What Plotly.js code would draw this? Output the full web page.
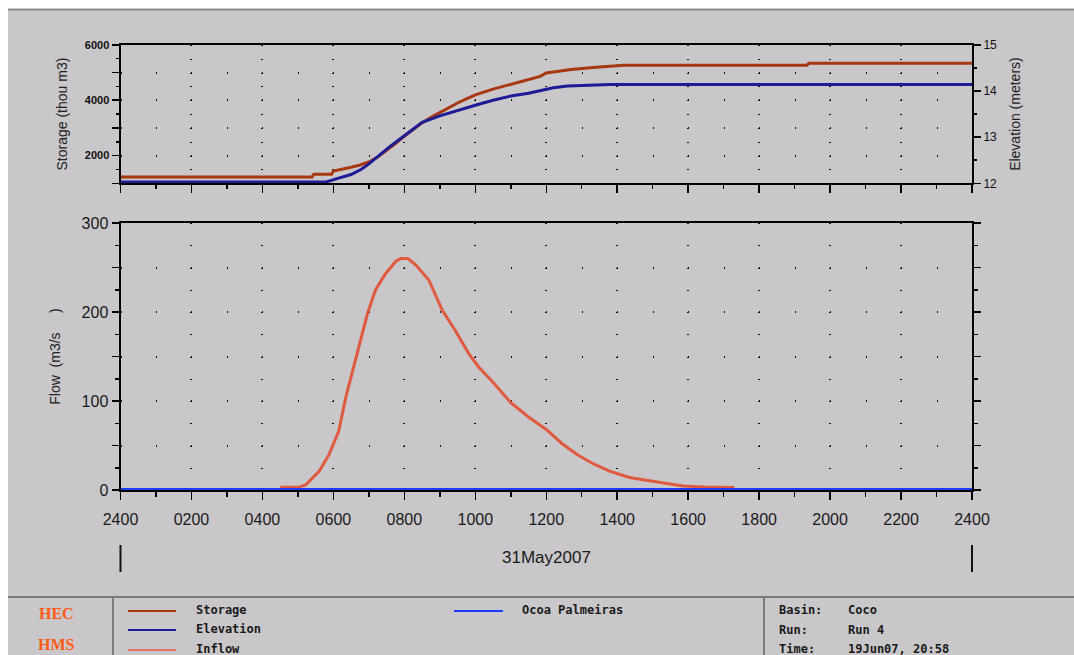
<!DOCTYPE html>
<html><head><meta charset="utf-8">
<script src="https://cdn.plot.ly/plotly-3.0.1.min.js"></script>
<style>html,body{margin:0;padding:0;background:#fff;}#chart{width:1074px;height:655px;}</style>
</head><body><div id="chart"></div>
<script>
// ---- data (hours after 2400 of 30May2007) ----
const tickHours = [0,2,4,6,8,10,12,14,16,18,20,22,24];
const tickLabels = ['2400','0200','0400','0600','0800','1000','1200','1400','1600','1800','2000','2200','2400'];
const dateLabel = '31May2007';

const storageHours = [0,5.4,5.45,5.95,6.0,6.25,6.5,6.75,7.0,7.25,7.5,7.75,8.0,8.25,8.5,8.75,9.0,9.25,9.5,9.75,10.0,10.5,11.0,11.5,11.83,12.0,12.4,12.7,13.4,14.2,19.35,19.4,24];
const storageValues = [1230,1230,1330,1330,1440,1500,1580,1660,1770,1950,2180,2430,2700,2950,3180,3380,3560,3730,3900,4050,4190,4400,4570,4740,4860,4980,5060,5110,5190,5260,5260,5330,5330];

const elevationHours = [0,5.8,6.1,6.5,6.8,7.0,7.3,7.6,8.0,8.5,9.0,9.5,10.0,10.5,11.0,11.5,11.83,12.2,12.6,13.8,24];
const elevationValues = [12.03,12.03,12.10,12.19,12.31,12.42,12.61,12.80,13.03,13.32,13.46,13.58,13.69,13.80,13.89,13.95,14.00,14.07,14.11,14.14,14.14];

const inflowHours = [4.5,5.0,5.22,5.6,5.88,6.15,6.35,6.54,6.77,6.96,7.19,7.47,7.76,7.9,8.1,8.32,8.69,9.07,9.44,9.82,10.1,10.48,11.0,11.5,12.0,12.45,12.9,13.35,13.8,14.35,14.95,15.4,15.86,16.45,17.3];
const inflowValues = [3,3,5.7,21,40,66,104,134,168,198,225,243,257,260,260,253,236,202,179,153,138,122,98,82,68,52,39,29,21,14,10,7.6,4.5,3.4,2.7];

const outflowHours = [0,24];
const outflowValues = [0,0];

const seriesNames = ['Storage','Elevation','Inflow','Ocoa Palmeiras'];
const infoLabels = ['Basin:','Run:','Time:'];
const infoValues = ['Coco','Run 4','19Jun07, 20:58'];

// ---- styling ----
const W = 1074, H = 655;
const px = v => v / W, py = v => 1 - v / H;
const colStorage = '#a8380f', colElev = '#1c1c96', colInflow = '#e05a40', colOut = '#1a3cff';
const bg = '#c9c7ca';
const sansFam = 'Liberation Sans, Arial, sans-serif';
const tickFont = {family: sansFam, size: 16, color: '#1a1a1a'};
const monoFont = {family: 'DejaVu Sans Mono, Liberation Mono, monospace', size: 12, color: '#1a1a1a', weight: 'bold'};

const traces = [
  {x: storageHours, y: storageValues, xaxis: 'x', yaxis: 'y', mode: 'lines', line: {color: colStorage, width: 3}, name: seriesNames[0]},
  {x: elevationHours, y: elevationValues, xaxis: 'x', yaxis: 'y2', mode: 'lines', line: {color: colElev, width: 3}, name: seriesNames[1]},
  {x: inflowHours, y: inflowValues, xaxis: 'x2', yaxis: 'y3', mode: 'lines', line: {color: colInflow, width: 3}, name: seriesNames[2]},
  {x: outflowHours, y: outflowValues, xaxis: 'x2', yaxis: 'y3', mode: 'lines', line: {color: colOut, width: 4}, name: seriesNames[3], cliponaxis: false}
];

const xDom = [px(120.5), px(972)];
const axCommon = {showline: true, linecolor: '#000', linewidth: 2, zeroline: false, ticks: 'outside', tickcolor: '#000', tickwidth: 1.5, fixedrange: true};
const topTickAxis = (over, anchor) => ({
  overlaying: over, anchor: anchor, side: 'top', domain: xDom, range: [0, 24], tickvals: tickHours,
  showticklabels: false, showline: false, showgrid: false, zeroline: false,
  ticks: 'inside', ticklen: 8, tickcolor: '#000', tickwidth: 1.5, fixedrange: true,
  minor: {dtick: 1, tick0: 0, ticklen: 4, tickcolor: '#000', tickwidth: 1.5, ticks: 'inside', showgrid: false}
});

const annot = (x, y, text, font, xanchor) => ({xref: 'paper', yref: 'paper', x: px(x), y: py(y), text: text, showarrow: false, font: font, xanchor: xanchor || 'left', yanchor: 'middle'});

const layout = {
  width: W, height: H,
  margin: {l: 0, r: 0, t: 0, b: 0},
  paper_bgcolor: '#ffffff', plot_bgcolor: 'rgba(0,0,0,0)',
  showlegend: false,
  xaxis: Object.assign({}, axCommon, {
    domain: xDom, anchor: 'y', range: [0, 24], tickvals: tickHours, showticklabels: false,
    ticklen: 8, mirror: true,
    minor: {dtick: 1, tick0: 0, ticklen: 4, tickcolor: '#000', tickwidth: 1.5, ticks: 'outside', showgrid: false},
    showgrid: true, gridcolor: '#111', gridwidth: 2, griddash: '1px,12.85px'
  }),
  xaxis3: topTickAxis('x', 'y'),
  yaxis: Object.assign({}, axCommon, {
    domain: [py(183.3), py(44.8)], anchor: 'x', range: [1000, 6000],
    tickvals: [1000,2000,3000,4000,5000,6000], ticktext: ['','2000','','4000','','6000'],
    ticklen: 7, mirror: true,
    minor: {dtick: 500, tick0: 0, ticklen: 3, tickcolor: '#000', tickwidth: 1.5, ticks: 'outside', showgrid: false},
    tickfont: {family: sansFam, size: 11, color: '#111', weight: 'bold'},
    showgrid: true, gridcolor: '#111', gridwidth: 2, griddash: '1px,34.48px',
    title: {text: 'Storage (thou m3)', font: {family: sansFam, size: 14, color: '#222'}, standoff: 14}
  }),
  yaxis2: Object.assign({}, axCommon, {
    overlaying: 'y', side: 'right', anchor: 'x', range: [12, 15],
    tickvals: [12,13,14,15], ticklen: 7,
    minor: {dtick: 0.5, tick0: 0, ticklen: 3, tickcolor: '#000', tickwidth: 1.5, ticks: 'outside', showgrid: false},
    tickfont: {family: sansFam, size: 12, color: '#111'},
    showgrid: false,
    title: {text: 'Elevation (meters)', font: {family: sansFam, size: 14, color: '#222'}, standoff: 14}
  }),
  xaxis2: Object.assign({}, axCommon, {
    domain: xDom, anchor: 'y3', range: [0, 24], tickvals: tickHours, ticktext: tickLabels,
    ticklen: 8, mirror: true, layer: 'below traces', tickfont: tickFont, ticklabelstandoff: 6,
    minor: {dtick: 1, tick0: 0, ticklen: 5, tickcolor: '#000', tickwidth: 1.5, ticks: 'outside', showgrid: false},
    showgrid: true, gridcolor: '#111', gridwidth: 2, griddash: '1px,21.25px'
  }),
  xaxis4: topTickAxis('x2', 'y3'),
  yaxis3: Object.assign({}, axCommon, {
    domain: [py(490), py(223)], anchor: 'x2', range: [0, 300],
    tickvals: [0,50,100,150,200,250,300], ticktext: ['0','','100','','200','','300'],
    ticklen: 7, mirror: 'allticks', tickfont: tickFont,
    minor: {dtick: 25, tick0: 0, ticklen: 4, tickcolor: '#000', tickwidth: 1.5, ticks: 'outside', showgrid: false},
    showgrid: true, gridcolor: '#111', gridwidth: 2, griddash: '1px,34.48px',
    title: {text: 'Flow  (m3/s     )', font: {family: sansFam, size: 14, color: '#222'}, standoff: 18}
  }),
  shapes: [
    {type: 'rect', xref: 'paper', yref: 'paper', x0: px(8), x1: 1, y0: 0, y1: py(9), fillcolor: bg, line: {width: 0}, layer: 'below'},
    {type: 'line', xref: 'paper', yref: 'paper', x0: px(8), x1: 1, y0: py(9.5), y1: py(9.5), line: {color: '#8a8a8a', width: 2}, layer: 'below'},
    {type: 'line', xref: 'paper', yref: 'paper', x0: px(8), x1: 1, y0: py(597), y1: py(597), line: {color: '#7c7c7c', width: 2}},
    {type: 'line', xref: 'paper', yref: 'paper', x0: px(113), x1: px(113), y0: 0, y1: py(597), line: {color: '#7c7c7c', width: 2}},
    {type: 'line', xref: 'paper', yref: 'paper', x0: px(764), x1: px(764), y0: 0, y1: py(597), line: {color: '#7c7c7c', width: 2}},
    {type: 'line', xref: 'paper', yref: 'paper', x0: px(120.5), x1: px(120.5), y0: py(545), y1: py(572), line: {color: '#111', width: 2}},
    {type: 'line', xref: 'paper', yref: 'paper', x0: px(972), x1: px(972), y0: py(545), y1: py(572), line: {color: '#111', width: 2}},
    {type: 'line', xref: 'paper', yref: 'paper', x0: px(128), x1: px(176), y0: py(611), y1: py(611), line: {color: colStorage, width: 2}},
    {type: 'line', xref: 'paper', yref: 'paper', x0: px(128), x1: px(176), y0: py(630), y1: py(630), line: {color: colElev, width: 2}},
    {type: 'line', xref: 'paper', yref: 'paper', x0: px(128), x1: px(176), y0: py(650), y1: py(650), line: {color: '#df7563', width: 2}},
    {type: 'line', xref: 'paper', yref: 'paper', x0: px(454), x1: px(503), y0: py(611), y1: py(611), line: {color: colOut, width: 2}}
  ],
  annotations: [
    annot(546, 557, dateLabel, {family: sansFam, size: 17, color: '#1a1a1a'}, 'center'),
    annot(56, 613, '<b>HEC</b>', {family: 'Liberation Serif, serif', size: 16, color: '#ff5a14'}, 'center'),
    annot(56, 644, '<b>HMS</b>', {family: 'Liberation Serif, serif', size: 16, color: '#ff5a14'}, 'center'),
    annot(194, 610, seriesNames[0], monoFont),
    annot(194, 629, seriesNames[1], monoFont),
    annot(194, 649, seriesNames[2], monoFont),
    annot(520, 610, seriesNames[3], monoFont),
    annot(777, 610, infoLabels[0], monoFont),
    annot(777, 630, infoLabels[1], monoFont),
    annot(777, 649, infoLabels[2], monoFont),
    annot(846, 610, infoValues[0], monoFont),
    annot(846, 630, infoValues[1], monoFont),
    annot(846, 649, infoValues[2], monoFont)
  ]
};

Plotly.newPlot('chart', traces, layout, {displayModeBar: false, staticPlot: true});
</script></body></html>
